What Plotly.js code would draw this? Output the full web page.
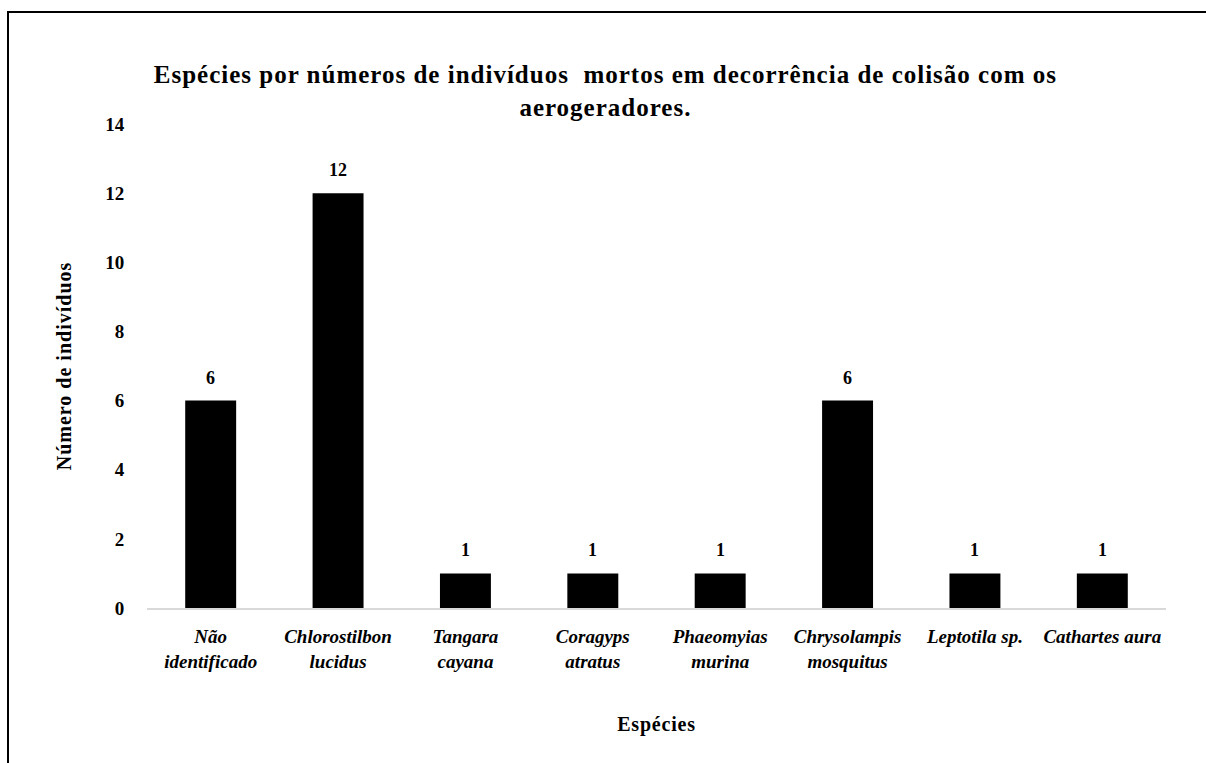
<!DOCTYPE html>
<html><head><meta charset="utf-8">
<script src="https://cdn.plot.ly/plotly-3.0.1.min.js"></script>
<style>
html,body{margin:0;padding:0;background:#fff;}
#frame{position:absolute;left:7px;top:11px;width:1199px;height:752px;border-left:2px solid #000;border-top:2px solid #000;box-sizing:border-box;pointer-events:none;z-index:5;}
#chart{position:absolute;left:0;top:0;width:1206px;height:763px;}
#chart .gtitle{letter-spacing:1px;}
#chart .ytitle{letter-spacing:1px;}
#chart .xtitle{letter-spacing:0.8px;}
</style></head>
<body>
<div id="chart"></div>
<div id="frame"></div>
<script>
const categories = ["Não identificado","Chlorostilbon lucidus","Tangara cayana","Coragyps atratus","Phaeomyias murina","Chrysolampis mosquitus","Leptotila sp.","Cathartes aura"];
const tickLabels = ["Não<br>identificado","Chlorostilbon<br>lucidus","Tangara<br>cayana","Coragyps<br>atratus","Phaeomyias<br>murina","Chrysolampis<br>mosquitus","Leptotila sp.","Cathartes aura"];
const values = [6,12,1,1,1,6,1,1];
const yTicks = [0,2,4,6,8,10,12,14];

const font = "'Liberation Serif', 'Times New Roman', serif";

const trace = {
  type:'bar', x:categories, y:values, width:0.4,
  marker:{color:'#000000'}, hoverinfo:'none'
};

const annotations = categories.map((c,i)=>({
  x:c, y:values[i], xref:'x', yref:'y', text:'<b>'+values[i]+'</b>',
  showarrow:false, yanchor:'bottom', yshift:11,
  font:{family:font,size:18,color:'#000'}
}));

const layout = {
  width:1206, height:763,
  margin:{l:147,r:40,t:124,b:155},
  paper_bgcolor:'#fff', plot_bgcolor:'#fff',
  showlegend:false,
  font:{family:font,color:'#000'},
  title:{text:'<b>Espécies por números de indivíduos  mortos em decorrência de colisão com os<br>aerogeradores.</b>',
    font:{family:font,size:25,color:'#000'}, x:0.502, xanchor:'center', y:0.891, yanchor:'top', yref:'container'},
  xaxis:{
    tickvals:categories, ticktext:tickLabels.map(t=>'<b><i>'+t.replace('<br>','</i></b><br><b><i>')+'</i></b>'),
    tickfont:{family:font,size:19,color:'#000'},
    showline:true, linecolor:'#d9d9d9', linewidth:1.5,
    ticks:'outside', ticklen:11, tickcolor:'rgba(0,0,0,0)',
    showgrid:false, zeroline:false,
    title:{text:'<b>Espécies</b>', font:{family:font,size:20,color:'#000'}, standoff:46}
  },
  yaxis:{
    range:[0,14], tickvals:yTicks, ticktext:yTicks.map(v=>'<b>'+v+'</b>'),
    tickfont:{family:font,size:19,color:'#000'},
    showline:false, showgrid:false, zeroline:false,
    ticks:'outside', ticklen:18, tickcolor:'rgba(0,0,0,0)',
    title:{text:'<b>Número de indivíduos</b>', font:{family:font,size:20,color:'#000'}, standoff:28}
  },
  annotations:annotations
};

Plotly.newPlot('chart',[trace],layout,{displayModeBar:false,staticPlot:true});
</script>
</body></html>
